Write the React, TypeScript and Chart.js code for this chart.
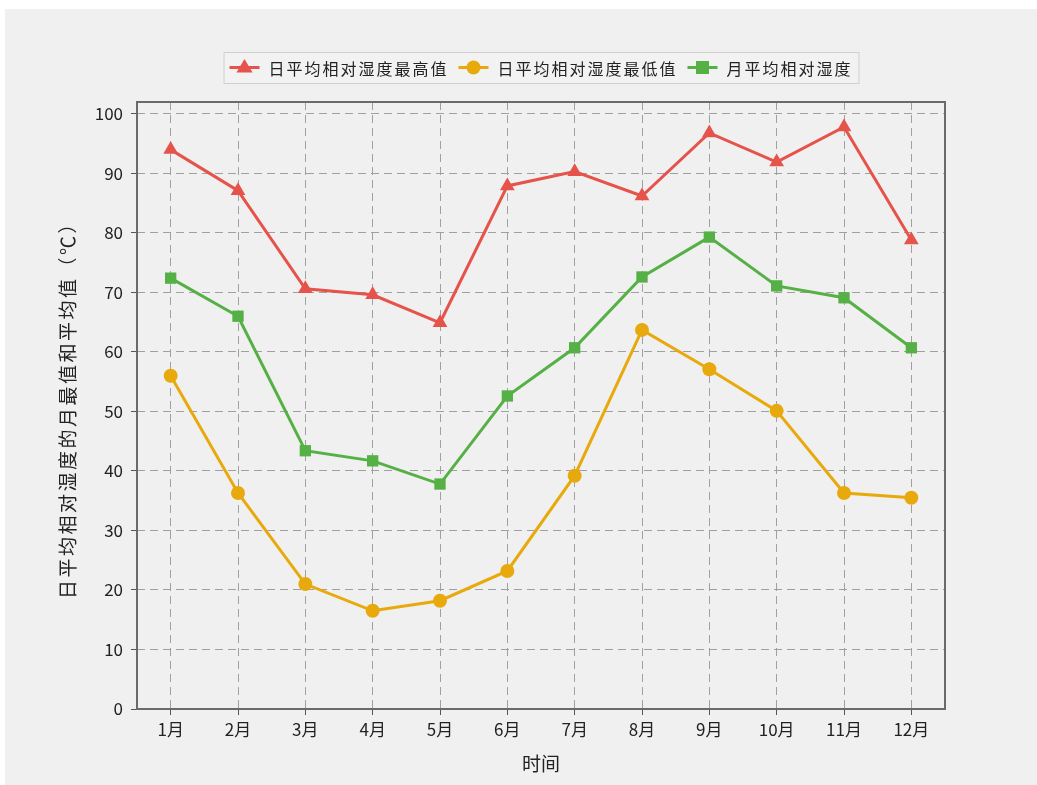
import React, { useEffect, useRef } from "react";
import { Chart, registerables } from "chart.js";

Chart.register(...registerables);

const months = ["1月", "2月", "3月", "4月", "5月", "6月", "7月", "8月", "9月", "10月", "11月", "12月"];
const maxHumidity = [94.0, 87.1, 70.6, 69.6, 64.9, 87.9, 90.3, 86.2, 96.8, 91.9, 97.8, 78.8];
const minHumidity = [56.0, 36.3, 21.0, 16.5, 18.2, 23.2, 39.2, 63.7, 57.1, 50.1, 36.3, 35.5];
const avgHumidity = [72.4, 66.0, 43.4, 41.7, 37.8, 52.6, 60.7, 72.6, 79.3, 71.1, 69.1, 60.7];
const yTickValues = [0, 10, 20, 30, 40, 50, 60, 70, 80, 90, 100];
const seriesNames = ["日平均相对湿度最高值", "日平均相对湿度最低值", "月平均相对湿度"];
const yTitle = "日平均相对湿度的月最值和平均值（℃）";
const xTitle = "时间";

const RED = "#e5534b";
const ORANGE = "#e8a90c";
const GREEN = "#55b045";
const FONT = "'Noto Sans CJK SC', 'Noto Sans', sans-serif";

function drawMarker(ctx: CanvasRenderingContext2D, style: string, x: number, y: number, r: number, color: string) {
  ctx.save();
  ctx.fillStyle = color;
  ctx.beginPath();
  if (style === "triangle") {
    ctx.moveTo(x, y - r);
    ctx.lineTo(x + r * 0.95, y + r * 0.6);
    ctx.lineTo(x - r * 0.95, y + r * 0.6);
    ctx.closePath();
  } else if (style === "circle") {
    ctx.arc(x, y, r, 0, Math.PI * 2);
  } else {
    ctx.rect(x - r, y - r, 2 * r, 2 * r);
  }
  ctx.fill();
  ctx.restore();
}

const framePlugin = {
  id: "frameAndLegend",
  afterDraw(chart: any) {
    const { ctx, chartArea } = chart;
    ctx.save();
    ctx.strokeStyle = "#6a6a6a";
    ctx.lineWidth = 2;
    ctx.strokeRect(chartArea.left, chartArea.top, chartArea.right - chartArea.left, chartArea.bottom - chartArea.top);
    ctx.restore();

    // y axis title (rotated, letter-spaced)
    ctx.save();
    ctx.font = `19px ${FONT}`;
    try {
      (ctx as any).letterSpacing = "2.5px";
    } catch (e) {}
    ctx.translate(63, (chartArea.top + chartArea.bottom) / 2);
    ctx.rotate(-Math.PI / 2);
    ctx.fillStyle = "#222";
    ctx.textAlign = "center";
    ctx.textBaseline = "middle";
    ctx.fillText(yTitle, 0, 0);
    ctx.restore();

    const items = [
      { name: seriesNames[0], color: RED, style: "triangle", r: 8.5 },
      { name: seriesNames[1], color: ORANGE, style: "circle", r: 7 },
      { name: seriesNames[2], color: GREEN, style: "rect", r: 6.5 },
    ];
    ctx.save();
    ctx.font = `16px ${FONT}`;
    try {
      (ctx as any).letterSpacing = "2px";
    } catch (e) {}
    const lineW = 30;
    const gapText = 9;
    const gapItem = 10;
    const widths = items.map((it) => lineW + gapText + ctx.measureText(it.name).width);
    const total = widths.reduce((a, b) => a + b, 0) + gapItem * (items.length - 1);
    const padX = 6;
    const boxW = total + padX * 2;
    const cx = (chartArea.left + chartArea.right) / 2;
    const boxX = cx - boxW / 2;
    const boxY = 43;
    const boxH = 31;
    ctx.fillStyle = "#f2f2f2";
    ctx.fillRect(boxX, boxY, boxW, boxH);
    ctx.strokeStyle = "#cfcfcf";
    ctx.lineWidth = 1;
    ctx.strokeRect(boxX + 0.5, boxY + 0.5, boxW, boxH);
    let x = boxX + padX;
    const yMid = boxY + boxH / 2;
    items.forEach((it, i) => {
      ctx.strokeStyle = it.color;
      ctx.lineWidth = 3;
      ctx.beginPath();
      ctx.moveTo(x, yMid);
      ctx.lineTo(x + lineW, yMid);
      ctx.stroke();
      drawMarker(ctx, it.style, x + lineW / 2, yMid, it.r, it.color);
      ctx.fillStyle = "#222";
      ctx.textBaseline = "middle";
      ctx.textAlign = "left";
      ctx.fillText(it.name, x + lineW + gapText, yMid + 1);
      x += widths[i] + gapItem;
    });
    ctx.restore();
  },
};

export default function App() {
  const ref = useRef<HTMLCanvasElement | null>(null);
  useEffect(() => {
    if (!ref.current) return;
    const chart = new Chart(ref.current, {
      type: "line",
      data: {
        labels: months,
        datasets: [
          {
            label: seriesNames[0],
            data: maxHumidity,
            borderColor: RED,
            backgroundColor: RED,
            borderWidth: 3,
            pointStyle: "triangle",
            pointRadius: 8.5,
            pointBorderWidth: 0,
          },
          {
            label: seriesNames[1],
            data: minHumidity,
            borderColor: ORANGE,
            backgroundColor: ORANGE,
            borderWidth: 3,
            pointStyle: "circle",
            pointRadius: 7,
            pointBorderWidth: 0,
          },
          {
            label: seriesNames[2],
            data: avgHumidity,
            borderColor: GREEN,
            backgroundColor: GREEN,
            borderWidth: 3,
            pointStyle: "rect",
            pointRadius: 8,
            pointBorderWidth: 0,
          },
        ],
      },
      options: {
        animation: false,
        responsive: false,
        layout: { padding: { top: 93, right: 92, left: 0, bottom: 10 } },
        plugins: { legend: { display: false }, tooltip: { enabled: false } },
        scales: {
          x: {
            type: "category",
            offset: true,
            afterFit: (s: any) => {
              s.height = 66;
            },
            grid: {
              offset: false,
              color: "#a0a0a0",
              lineWidth: 1,
              tickLength: 6,
              tickColor: "#555",
              tickBorderDash: [],
              drawTicks: true,
            },
            border: { display: false, dash: [8, 5] },
            ticks: { color: "#222", font: { family: FONT, size: 17 }, padding: 4, maxRotation: 0 },
            title: { display: true, text: xTitle, color: "#222", font: { family: FONT, size: 19 }, padding: { top: 0, bottom: 0 } },
          },
          y: {
            type: "linear",
            min: 0,
            max: 102,
            afterFit: (s: any) => {
              s.width = 132;
            },
            afterBuildTicks: (s: any) => {
              s.ticks = yTickValues.map((v) => ({ value: v }));
            },
            grid: {
              color: "#a0a0a0",
              lineWidth: 1,
              tickLength: 6,
              tickColor: "#555",
              tickBorderDash: [],
            },
            border: { display: false, dash: [8, 5] },
            ticks: { color: "#222", font: { family: FONT, size: 17 }, padding: 8 },
            title: { display: false, text: yTitle },
          },
        },
      },
      plugins: [framePlugin],
    } as any);
    return () => chart.destroy();
  }, []);
  return (
    <div style={{ position: "absolute", left: 5, top: 9, width: 1032, height: 776, background: "#f0f0f0" }}>
      <canvas ref={ref} width={1032} height={776} style={{ display: "block", width: 1032, height: 776 }} />
    </div>
  );
}
